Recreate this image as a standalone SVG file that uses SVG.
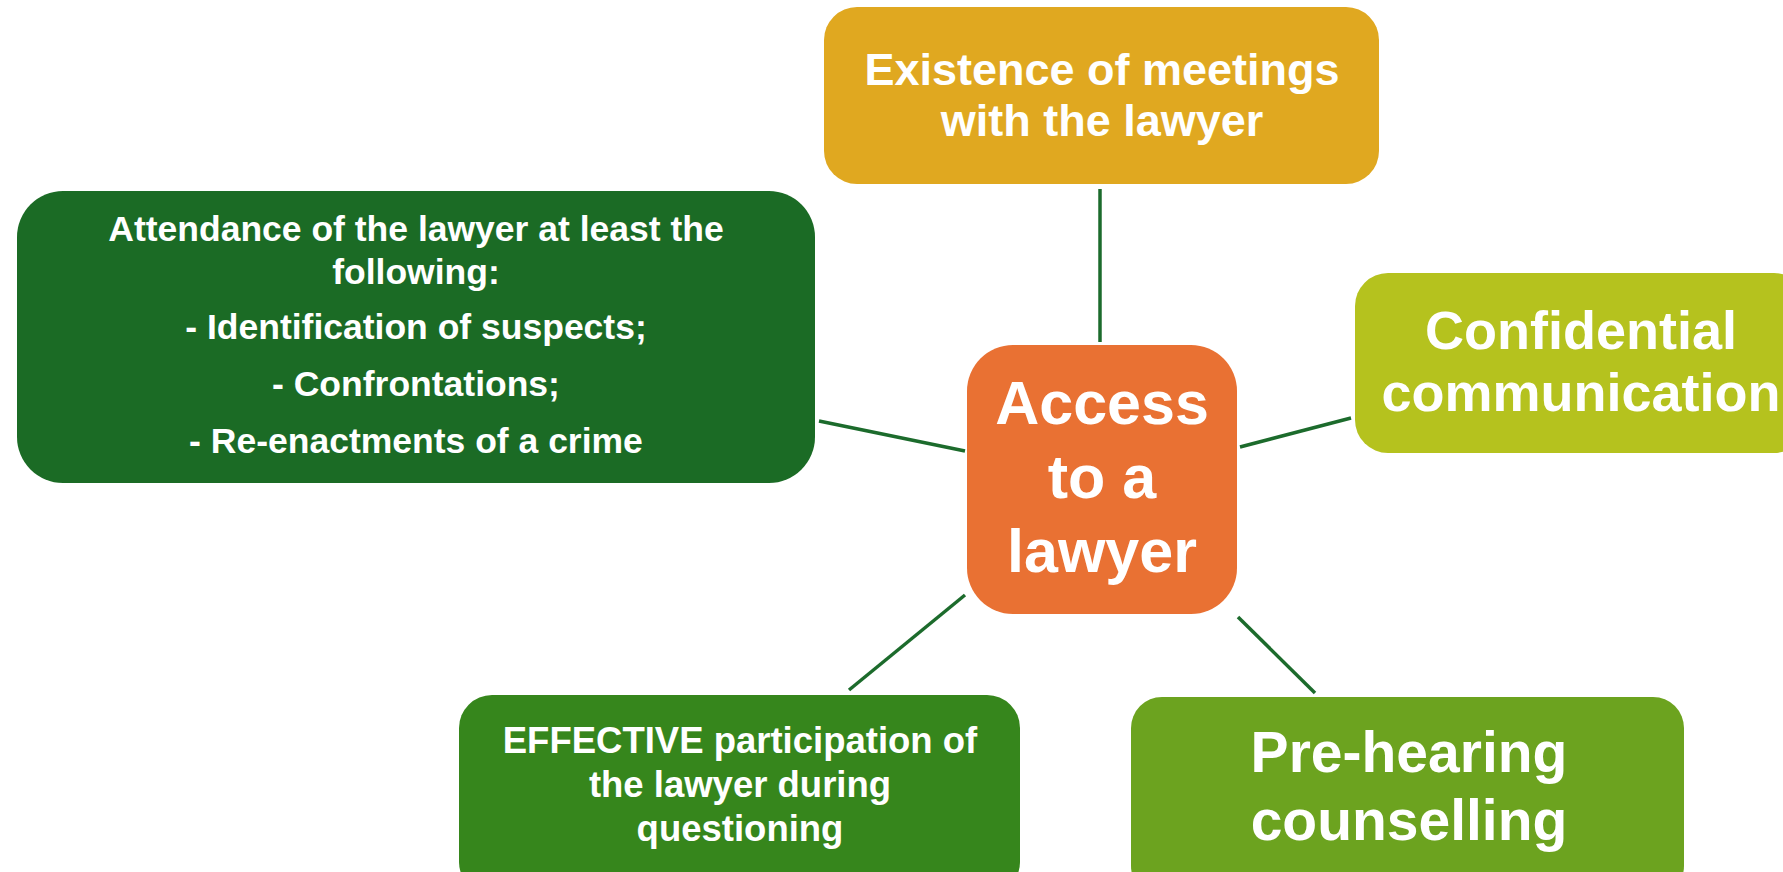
<svg xmlns="http://www.w3.org/2000/svg" width="1783" height="872" viewBox="0 0 1783 872">
<style>
.t{font-family:"Liberation Sans",Arial,sans-serif;font-weight:bold;fill:#fff;text-anchor:middle}
.c{stroke:#1C6B2C;stroke-width:3.5;fill:none}
</style>
<rect width="1783" height="872" fill="#fff"/>
<g id="connectors">
<line class="c" x1="1100" y1="189" x2="1100" y2="342"/>
<line class="c" x1="819" y1="421" x2="965" y2="451"/>
<line class="c" x1="1240" y1="447" x2="1351" y2="418"/>
<line class="c" x1="965" y1="595" x2="849" y2="690"/>
<line class="c" x1="1238" y1="617" x2="1315" y2="693"/>
</g>
<g id="n-top">
<rect x="824" y="7" width="555" height="177" rx="33" fill="#E0A820"/>
<text class="t" font-size="45" x="1102" y="85">Existence of meetings</text>
<text class="t" font-size="45" x="1102" y="136">with the lawyer</text>
</g>
<g id="n-left">
<rect x="17" y="191" width="798" height="292" rx="46" fill="#1B6B25"/>
<text class="t" font-size="35.5" x="416" y="241">Attendance of the lawyer at least the</text>
<text class="t" font-size="35.5" x="416" y="284">following:</text>
<text class="t" font-size="35.5" x="416" y="339">- Identification of suspects;</text>
<text class="t" font-size="35.5" x="416" y="396">- Confrontations;</text>
<text class="t" font-size="35.5" x="416" y="453">- Re-enactments of a crime</text>
</g>
<g id="n-center">
<rect x="967" y="345" width="270" height="269" rx="46" fill="#E97133"/>
<text class="t" font-size="61" x="1102" y="424">Access</text>
<text class="t" font-size="61" x="1102" y="498">to a</text>
<text class="t" font-size="61" x="1102" y="572">lawyer</text>
</g>
<g id="n-right">
<rect x="1355" y="273" width="452" height="180" rx="33" fill="#B5C21E"/>
<text class="t" font-size="54" x="1581" y="349">Confidential</text>
<text class="t" font-size="54" x="1581" y="411">communication</text>
</g>
<g id="n-bl">
<rect x="459" y="695" width="561" height="200" rx="33" fill="#36861C"/>
<text class="t" font-size="36.5" x="740" y="753">EFFECTIVE participation of</text>
<text class="t" font-size="36.5" x="740" y="797">the lawyer during</text>
<text class="t" font-size="36.5" x="740" y="841">questioning</text>
</g>
<g id="n-br">
<rect x="1131" y="697" width="553" height="200" rx="31" fill="#6CA31F"/>
<text class="t" font-size="57" x="1409" y="772">Pre-hearing</text>
<text class="t" font-size="57" x="1409" y="840">counselling</text>
</g>
</svg>
